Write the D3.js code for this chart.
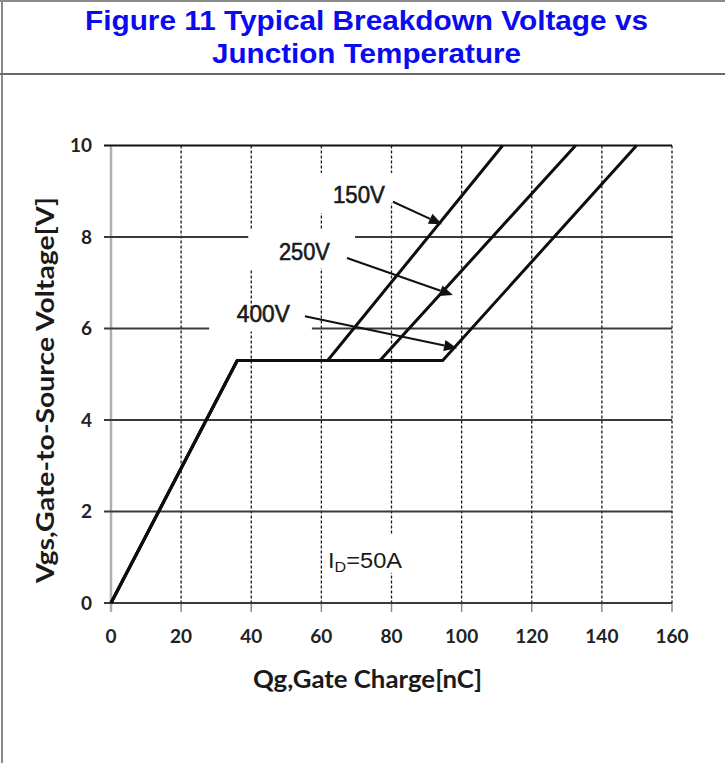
<!DOCTYPE html>
<html>
<head>
<meta charset="utf-8">
<script src="https://cdn.jsdelivr.net/npm/d3@7/dist/d3.min.js"></script>
<style>
  html, body { margin: 0; padding: 0; background: #fff; }
  svg { display: block; }
</style>
</head>
<body>
<script>
// ---------- data ----------
const titleLines = ["Figure 11 Typical Breakdown Voltage vs", "Junction Temperature"];
const xTicks = [0, 20, 40, 60, 80, 100, 120, 140, 160];
const yTicks = [0, 2, 4, 6, 8, 10];
const xLabel = "Qg,Gate Charge[nC]";
const yLabel = "Vgs,Gate-to-Source Voltage[V]";

const seriesNames = ["150V", "250V", "400V"];
const q150 = [0, 36, 61.8, 111.7];
const v150 = [0, 5.3, 5.3, 10];
const q250 = [0, 36, 76.7, 132.5];
const v250 = [0, 5.3, 5.3, 10];
const q400 = [0, 36, 94.6, 149.9];
const v400 = [0, 5.3, 5.3, 10];

// annotation label anchors (data units: Qg, Vgs)
const labelQ = [63.3, 47.9, 35.9];
const labelV = [8.74, 7.50, 6.14];
// arrows start / tip (data units)
const arrowFromQ = [80.4, 67.3, 55.3];
const arrowFromV = [8.77, 7.54, 6.27];
const arrowToQ = [94.4, 97.5, 98.7];
const arrowToV = [8.28, 6.73, 5.57];

const condText = ["I", "D", "=50A"];
const condQ = 61.9, condV = 0.77;

// gridline breaks around labels (data units)
const hBreakV = [8, 6];
const hBreakFrom = [39.9, 28.0];
const hBreakTo = [69.6, 57.3];
const vBreakQ = [40, 40, 60, 60, 80, 80];
const vBreakFrom = [7.28, 5.97, 8.52, 7.32, 8.74, 0.66];
const vBreakTo = [8.15, 6.45, 9.40, 8.15, 9.40, 1.49];

// ---------- drawing ----------
const W = 725, H = 763;
const svg = d3.select("body").append("svg").attr("width", W).attr("height", H);
svg.append("rect").attr("width", W).attr("height", H).attr("fill", "#fff");

// frame
svg.append("line").attr("x1", 0).attr("x2", W).attr("y1", 1).attr("y2", 1).attr("stroke", "#8a8a8a").attr("stroke-width", 2);
svg.append("line").attr("x1", 2).attr("x2", 2).attr("y1", 0).attr("y2", H).attr("stroke", "#8a8a8a").attr("stroke-width", 2);
svg.append("line").attr("x1", 0).attr("x2", W).attr("y1", 74).attr("y2", 74).attr("stroke", "#6a6a6a").attr("stroke-width", 2.2);

// title
const titleBase = [29.5, 63];
const titleLen = [563, 309];
titleLines.forEach((t, i) => {
  svg.append("text")
    .attr("x", 366.5).attr("y", titleBase[i])
    .attr("text-anchor", "middle")
    .attr("font-family", "'Liberation Sans', Arial, sans-serif")
    .attr("font-weight", "bold").attr("font-size", 28)
    .attr("fill", "#0b0bf2")
    .attr("textLength", titleLen[i]).attr("lengthAdjust", "spacingAndGlyphs")
    .text(t);
});

const x = d3.scaleLinear().domain([0, 160]).range([111, 672]);
const y = d3.scaleLinear().domain([0, 10]).range([603, 145.5]);

const g = svg.append("g");

// vertical dashed gridlines
g.selectAll(".vg").data(xTicks.filter(d => d > 0)).enter().append("line")
  .attr("x1", d => x(d)).attr("x2", d => x(d))
  .attr("y1", y(10)).attr("y2", y(0))
  .attr("stroke", "#1a1a1a").attr("stroke-width", 1.3)
  .attr("stroke-dasharray", "3,2");
// tick marks below x axis
g.selectAll(".xt").data(xTicks).enter().append("line")
  .attr("x1", d => x(d)).attr("x2", d => x(d))
  .attr("y1", y(0)).attr("y2", y(0) + 9)
  .attr("stroke", "#8c8c8c").attr("stroke-width", 1.5);
// left axis line (light gray)
g.append("line").attr("x1", x(0)).attr("x2", x(0)).attr("y1", y(10)).attr("y2", y(0) + 9)
  .attr("stroke", "#b0b0b0").attr("stroke-width", 2.5);
// horizontal gridlines
g.selectAll(".hg").data(yTicks).enter().append("line")
  .attr("x1", x(0) - 7).attr("x2", x(160))
  .attr("y1", d => y(d)).attr("y2", d => y(d))
  .attr("stroke", d => d === 10 ? "#111" : "#3a3a3a").attr("stroke-width", 2);

// breaks
hBreakV.forEach((v, i) => {
  g.append("rect").attr("x", x(hBreakFrom[i])).attr("width", x(hBreakTo[i]) - x(hBreakFrom[i]))
    .attr("y", y(v) - 3).attr("height", 6).attr("fill", "#fff");
});
vBreakQ.forEach((q, i) => {
  g.append("rect").attr("x", x(q) - 3).attr("width", 6)
    .attr("y", y(vBreakTo[i])).attr("height", y(vBreakFrom[i]) - y(vBreakTo[i])).attr("fill", "#fff");
});

// curves
const line = d3.line().x(d => x(d[0])).y(d => y(d[1]));
const series = [[q150, v150], [q250, v250], [q400, v400]];
series.forEach(([qs, vs]) => {
  g.append("path").datum(qs.map((q, i) => [q, vs[i]]))
    .attr("d", line).attr("fill", "none")
    .attr("stroke", "#0d0d0d").attr("stroke-width", 3)
    .attr("stroke-linejoin", "miter");
});

// arrows
seriesNames.forEach((n, i) => {
  const x1 = x(arrowFromQ[i]), y1 = y(arrowFromV[i]);
  const x2 = x(arrowToQ[i]), y2 = y(arrowToV[i]);
  const ang = Math.atan2(y2 - y1, x2 - x1);
  const L = 13, Wd = 5.5;
  const bx = x2 - L * Math.cos(ang), by = y2 - L * Math.sin(ang);
  g.append("line").attr("x1", x1).attr("y1", y1).attr("x2", bx).attr("y2", by)
    .attr("stroke", "#111").attr("stroke-width", 2);
  const pts = [
    [x2, y2],
    [bx + Wd * Math.sin(ang), by - Wd * Math.cos(ang)],
    [bx - Wd * Math.sin(ang), by + Wd * Math.cos(ang)]
  ];
  g.append("polygon").attr("points", pts.map(p => p.join(",")).join(" ")).attr("fill", "#111");
});

// series labels
const labelLen = [52, 51, 53];
seriesNames.forEach((n, i) => {
  g.append("text").attr("x", x(labelQ[i])).attr("y", y(labelV[i]))
    .attr("font-family", "'Liberation Sans Narrow', 'Arial Narrow', 'Liberation Sans', sans-serif")
    .attr("font-size", 23).attr("fill", "#1a1a1a")
    .attr("stroke", "#1a1a1a").attr("stroke-width", 0.6)
    .attr("textLength", labelLen[i]).attr("lengthAdjust", "spacingAndGlyphs")
    .text(n);
});

// condition label
const ct = g.append("text").attr("x", x(condQ)).attr("y", y(condV))
  .attr("font-family", "'Liberation Sans Narrow', 'Arial Narrow', 'Liberation Sans', sans-serif")
  .attr("font-size", 22).attr("fill", "#1a1a1a")
  .attr("textLength", 74).attr("lengthAdjust", "spacingAndGlyphs");
ct.append("tspan").text(condText[0]);
ct.append("tspan").attr("font-size", 15).attr("dy", 4).text(condText[1]);
ct.append("tspan").attr("dy", -4).text(condText[2]);

// tick labels
g.selectAll(".yl").data(yTicks).enter().append("text")
  .attr("x", 92).attr("y", d => y(d)).attr("dy", "0.36em")
  .attr("text-anchor", "end")
  .attr("font-family", "Lato, sans-serif").attr("font-weight", "bold").attr("font-size", 19)
  .attr("fill", "#222").text(d => d);
g.selectAll(".xl").data(xTicks).enter().append("text")
  .attr("x", d => x(d)).attr("y", 643)
  .attr("text-anchor", "middle")
  .attr("font-family", "Lato, sans-serif").attr("font-weight", "bold").attr("font-size", 19)
  .attr("fill", "#222").text(d => d);

// axis titles
svg.append("text").attr("x", 253).attr("y", 688)
  .attr("font-family", "Lato, sans-serif").attr("font-weight", "bold").attr("font-size", 24)
  .attr("fill", "#1a1a1a")
  .attr("textLength", 229).attr("lengthAdjust", "spacingAndGlyphs")
  .text(xLabel);
svg.append("text")
  .attr("transform", "translate(54,390) rotate(-90)")
  .attr("text-anchor", "middle")
  .attr("font-family", "Lato, sans-serif").attr("font-weight", "bold").attr("font-size", 24)
  .attr("fill", "#1a1a1a")
  .attr("textLength", 386).attr("lengthAdjust", "spacingAndGlyphs")
  .text(yLabel);
</script>
</body>
</html>
